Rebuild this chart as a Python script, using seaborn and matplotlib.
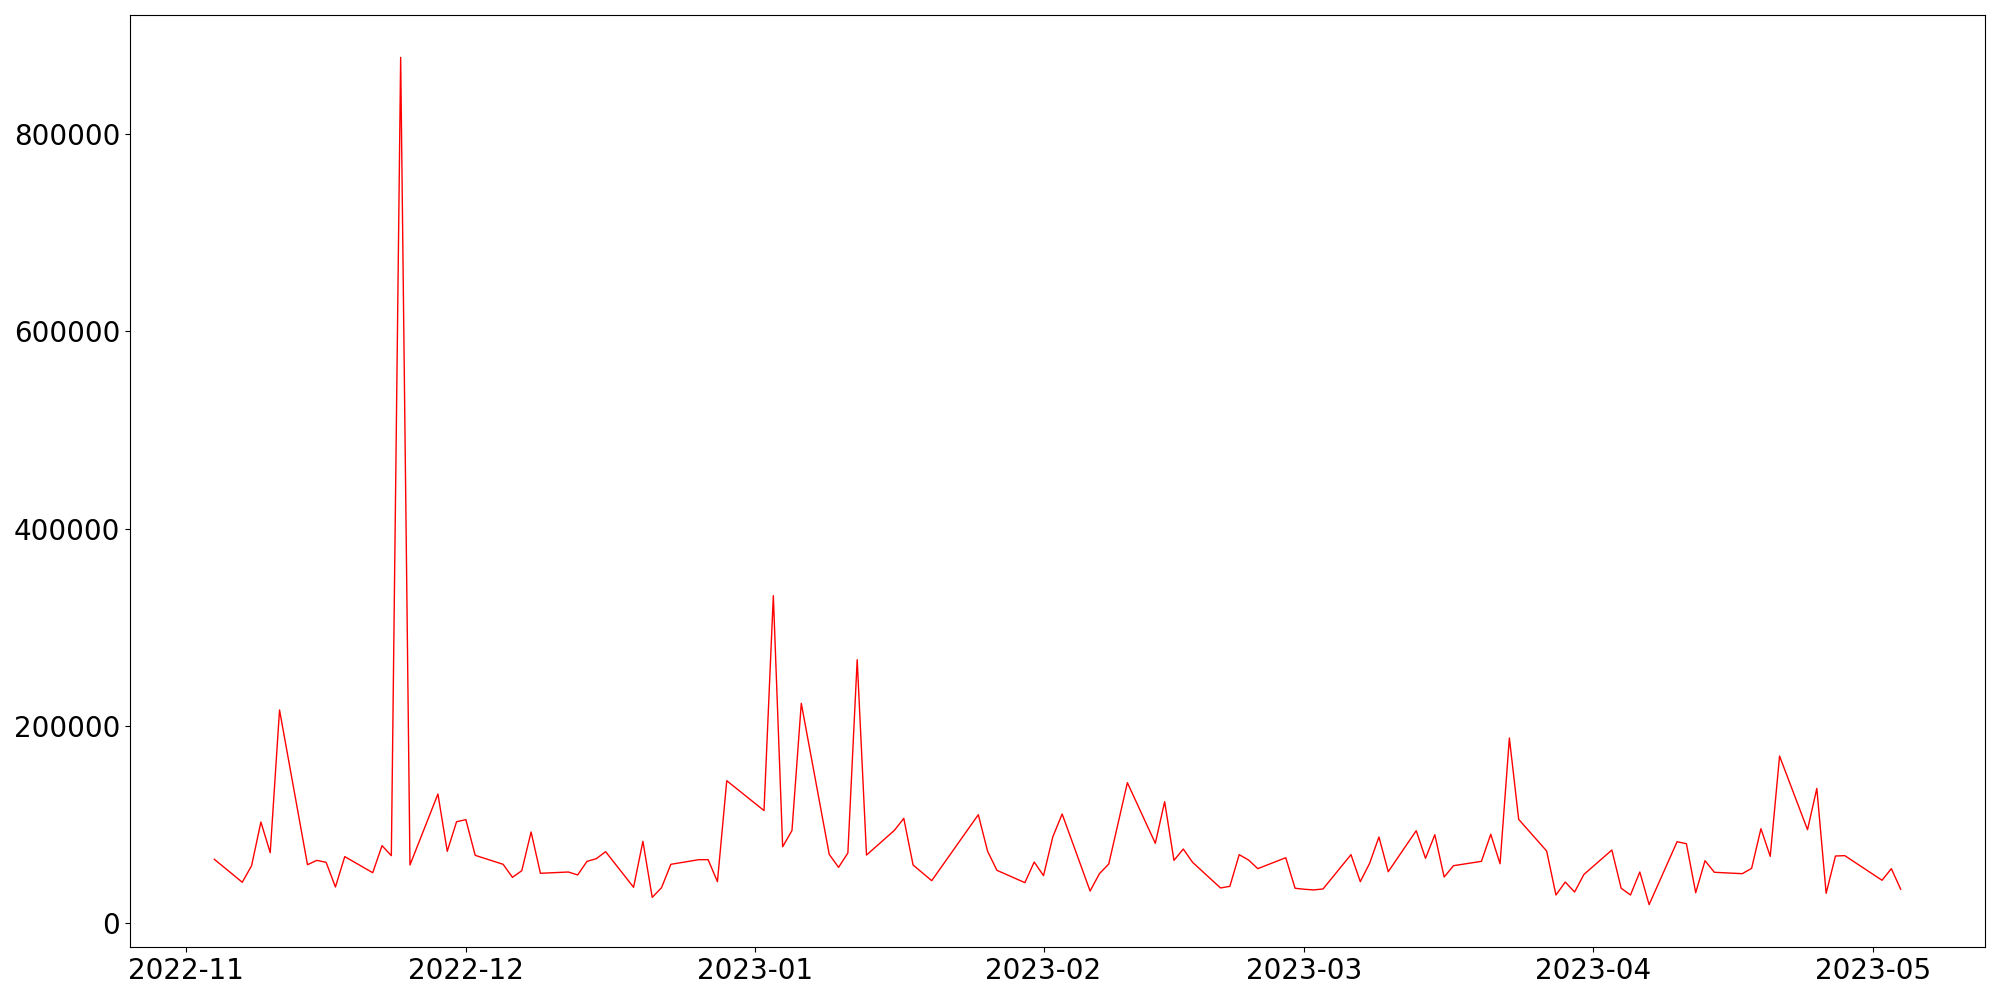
import pandas as pd
import seaborn as sns
import matplotlib
matplotlib.use("Agg")
import matplotlib.pyplot as plt

# daily values (business days, some missing)
dates = [
    "2022-11-04", "2022-11-07", "2022-11-08", "2022-11-09", "2022-11-10", "2022-11-11",
    "2022-11-14", "2022-11-15", "2022-11-16", "2022-11-17", "2022-11-18",
    "2022-11-21", "2022-11-22", "2022-11-23", "2022-11-24", "2022-11-25",
    "2022-11-28", "2022-11-29", "2022-11-30", "2022-12-01", "2022-12-02",
    "2022-12-05", "2022-12-06", "2022-12-07", "2022-12-08", "2022-12-09",
    "2022-12-12", "2022-12-13", "2022-12-14", "2022-12-15", "2022-12-16",
    "2022-12-19", "2022-12-20", "2022-12-21", "2022-12-22", "2022-12-23",
    "2022-12-26", "2022-12-27", "2022-12-28", "2022-12-29",
    "2023-01-02", "2023-01-03", "2023-01-04", "2023-01-05", "2023-01-06",
    "2023-01-09", "2023-01-10", "2023-01-11", "2023-01-12", "2023-01-13",
    "2023-01-16", "2023-01-17", "2023-01-18", "2023-01-20",
    "2023-01-25", "2023-01-26", "2023-01-27",
    "2023-01-30", "2023-01-31", "2023-02-01", "2023-02-02", "2023-02-03",
    "2023-02-06", "2023-02-07", "2023-02-08", "2023-02-09", "2023-02-10",
    "2023-02-13", "2023-02-14", "2023-02-15", "2023-02-16", "2023-02-17",
    "2023-02-20", "2023-02-21", "2023-02-22", "2023-02-23", "2023-02-24",
    "2023-02-27", "2023-02-28", "2023-03-01", "2023-03-02", "2023-03-03",
    "2023-03-06", "2023-03-07", "2023-03-08", "2023-03-09", "2023-03-10",
    "2023-03-13", "2023-03-14", "2023-03-15", "2023-03-16", "2023-03-17",
    "2023-03-20", "2023-03-21", "2023-03-22", "2023-03-23", "2023-03-24",
    "2023-03-27", "2023-03-28", "2023-03-29", "2023-03-30", "2023-03-31",
    "2023-04-03", "2023-04-04", "2023-04-05", "2023-04-06", "2023-04-07",
    "2023-04-10", "2023-04-11", "2023-04-12", "2023-04-13", "2023-04-14",
    "2023-04-17", "2023-04-18", "2023-04-19", "2023-04-20", "2023-04-21",
    "2023-04-24", "2023-04-25", "2023-04-26", "2023-04-27", "2023-04-28",
    "2023-05-02", "2023-05-03", "2023-05-04",
]
values = [
    64600, 41300, 58100, 102400, 71300, 216000,
    59100, 63500, 61500, 36500, 67300,
    51000, 78400, 68300, 878000, 58800,
    130800, 72700, 102700, 104800, 68600,
    59500, 46300, 53000, 92300, 50400,
    51700, 48700, 62500, 65200, 72300,
    36200, 82800, 26000, 35800, 59500,
    64200, 64200, 41900, 144300,
    114000, 332000, 77300, 93800, 222800,
    69600, 56400, 71000, 267000, 68900,
    94000, 106100, 58800, 42900,
    109800, 72700, 53400,
    40900, 61800, 48000, 87500, 110500,
    32400, 50000, 59800, 101000, 142300,
    80800, 123000, 63500, 75000, 61500,
    35500, 37200, 69300, 63900, 55100,
    66200, 35200, 34200, 33500, 34500,
    69300, 41900, 60500, 87200, 52000,
    93600, 65600, 89500, 46600, 58100,
    62500, 89900, 60100, 187600, 105100,
    73000, 28400, 41500, 31400, 49200,
    74000, 35200, 28400, 51700, 18600,
    82400, 80400, 30700, 63200, 51400,
    50000, 55400, 95600, 67600, 169300,
    94600, 136500, 30100, 67900, 68300,
    43300, 55100, 34200,
]

df = pd.DataFrame({"date": pd.to_datetime(dates), "value": values})

fig, ax = plt.subplots(figsize=(20, 10), dpi=100)
sns.lineplot(data=df, x="date", y="value", color="red", linewidth=1, ax=ax)

ax.set_xlabel("")
ax.set_ylabel("")
ax.tick_params(axis="both", labelsize=20)

plt.subplots_adjust(left=0.065, right=0.9925, top=0.985, bottom=0.053)
plt.savefig("out.png")
